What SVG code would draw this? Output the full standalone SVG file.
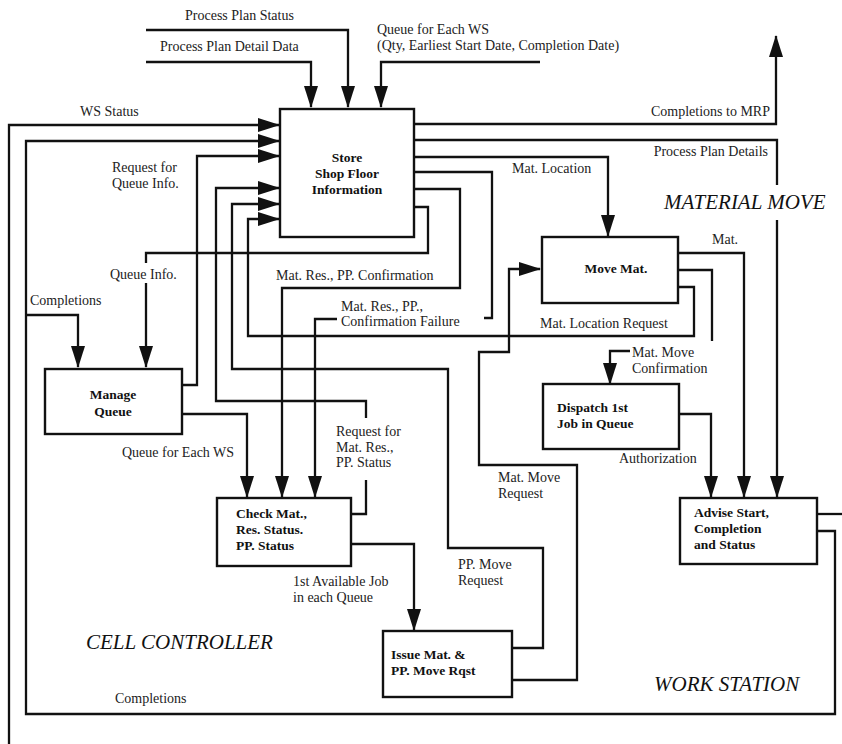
<svg xmlns="http://www.w3.org/2000/svg" width="842" height="744" viewBox="0 0 842 744">
  <style>
    .box { fill: #fff; stroke: #111; stroke-width: 2.4; }
    .ln { fill: none; stroke: #111; stroke-width: 2.3; stroke-linejoin: miter; }
    .arr { marker-end: url(#head); }
    .lbl { font-family: "Liberation Serif", "Times New Roman", serif; font-size: 14px; fill: #222; }
    .node { font-family: "Liberation Serif", "Times New Roman", serif; font-size: 13.5px; font-weight: bold; fill: #111; }
    .region { font-family: "Liberation Serif", "Times New Roman", serif; font-size: 21px; font-style: italic; fill: #111; }
  </style>
  <defs>
    <marker id="head" markerUnits="userSpaceOnUse" markerWidth="22" markerHeight="14" refX="21" refY="7" orient="auto">
      <path d="M0,0 L22,7 L0,14 z" fill="#111"/>
    </marker>
  </defs>
  <rect width="842" height="744" fill="#fff"/>

  <!-- connectors -->
  <g id="connectors">
    <!-- external inputs at top -->
    <path class="ln arr" d="M146,30 H348 V107"/>
    <path class="ln arr" d="M146,62 H311 V107"/>
    <path class="ln arr" d="M540,62 H381 V107"/>

    <!-- inputs on left side of Store -->
    <path class="ln arr" d="M9,744 V125 H279"/>
    <path class="ln arr" d="M817,531 H835 V714 H26 V141 H279"/>
    <path class="ln arr" d="M26,315 H78 V367"/>
    <path class="ln arr" d="M182,385 H197 V156 H279"/>
    <path class="ln arr" d="M351,514 H366 V480 M366,418 V401 H216 V188 H279"/>
    <path class="ln arr" d="M512,648 H543 V548 H448 V369 H232 V204 H279"/>
    <path class="ln arr" d="M678,287 H694 V336 H248 V219 H279"/>

    <!-- outputs on right side of Store -->
    <path class="ln arr" d="M414,124 H776 V36"/>
    <path class="ln arr" d="M414,140 H777 V185 M777,220 V497"/>
    <path class="ln arr" d="M414,157 H608 V236"/>
    <path class="ln" d="M414,172 H492 V318 H484"/>
    <path class="ln arr" d="M337,319 H315 V497"/>
    <path class="ln arr" d="M414,189 H460 V288 H282 V497"/>
    <path class="ln" d="M414,207 H428 V253 H146 V263"/>
    <path class="ln arr" d="M146,283 V367"/>

    <!-- Manage Queue to Check -->
    <path class="ln arr" d="M182,414 H247 V497"/>

    <!-- Check to Issue -->
    <path class="ln arr" d="M351,544 H414 V630"/>

    <!-- Issue to Move Mat. -->
    <path class="ln arr" d="M512,680 H577 V465 H479 V352 H509 V269 H540"/>

    <!-- Move Mat. outputs -->
    <path class="ln arr" d="M678,253 H744 V497"/>
    <path class="ln" d="M678,270 H712 V341"/>
    <path class="ln arr" d="M630,351 H610 V384"/>

    <!-- Dispatch to Advise -->
    <path class="ln arr" d="M679,414 H711 V497"/>

    <!-- Advise output -->
    <path class="ln" d="M817,514 H842"/>
  </g>

  <!-- nodes -->
  <g id="store">
    <rect class="box" x="280" y="109" width="134" height="128"/>
    <text class="node" x="347" y="162" text-anchor="middle">Store</text>
    <text class="node" x="347" y="178" text-anchor="middle">Shop Floor</text>
    <text class="node" x="347" y="194" text-anchor="middle">Information</text>
  </g>
  <g id="manage-queue">
    <rect class="box" x="45" y="369" width="137" height="65"/>
    <text class="node" x="113" y="399" text-anchor="middle">Manage</text>
    <text class="node" x="113" y="416" text-anchor="middle">Queue</text>
  </g>
  <g id="move-mat">
    <rect class="box" x="542" y="237" width="136" height="66"/>
    <text class="node" x="616" y="273" text-anchor="middle">Move Mat.</text>
  </g>
  <g id="dispatch">
    <rect class="box" x="543" y="384" width="136" height="65"/>
    <text class="node" x="557" y="412">Dispatch 1st</text>
    <text class="node" x="557" y="428">Job in Queue</text>
  </g>
  <g id="check">
    <rect class="box" x="217" y="498" width="134" height="68"/>
    <text class="node" x="236" y="518">Check Mat.,</text>
    <text class="node" x="236" y="534">Res. Status.</text>
    <text class="node" x="236" y="550">PP. Status</text>
  </g>
  <g id="issue">
    <rect class="box" x="383" y="631" width="129" height="66"/>
    <text class="node" x="391" y="659">Issue Mat. &amp;</text>
    <text class="node" x="391" y="675">PP. Move Rqst</text>
  </g>
  <g id="advise">
    <rect class="box" x="680" y="498" width="137" height="66"/>
    <text class="node" x="694" y="517">Advise Start,</text>
    <text class="node" x="694" y="533">Completion</text>
    <text class="node" x="694" y="549">and Status</text>
  </g>

  <!-- connector labels -->
  <g id="labels">
    <text class="lbl" x="185" y="20">Process Plan Status</text>
    <text class="lbl" x="160" y="51">Process Plan Detail Data</text>
    <text class="lbl" x="377" y="34">Queue for Each WS</text>
    <text class="lbl" x="377" y="50">(Qty, Earliest Start Date, Completion Date)</text>
    <text class="lbl" x="80" y="116">WS Status</text>
    <text class="lbl" x="112" y="172">Request for</text>
    <text class="lbl" x="112" y="188">Queue Info.</text>
    <text class="lbl" x="110" y="279">Queue Info.</text>
    <text class="lbl" x="30" y="305">Completions</text>
    <text class="lbl" x="122" y="457">Queue for Each WS</text>
    <text class="lbl" x="276" y="280">Mat. Res., PP. Confirmation</text>
    <text class="lbl" x="341" y="311">Mat. Res., PP.,</text>
    <text class="lbl" x="341" y="326">Confirmation Failure</text>
    <text class="lbl" x="336" y="436">Request for</text>
    <text class="lbl" x="336" y="452">Mat. Res.,</text>
    <text class="lbl" x="336" y="467">PP. Status</text>
    <text class="lbl" x="770" y="116" text-anchor="end">Completions to MRP</text>
    <text class="lbl" x="768" y="156" text-anchor="end">Process Plan Details</text>
    <text class="lbl" x="512" y="173">Mat. Location</text>
    <text class="lbl" x="712" y="244">Mat.</text>
    <text class="lbl" x="540" y="328">Mat. Location Request</text>
    <text class="lbl" x="632" y="357">Mat. Move</text>
    <text class="lbl" x="632" y="373">Confirmation</text>
    <text class="lbl" x="619" y="463">Authorization</text>
    <text class="lbl" x="498" y="482">Mat. Move</text>
    <text class="lbl" x="498" y="498">Request</text>
    <text class="lbl" x="458" y="569">PP. Move</text>
    <text class="lbl" x="458" y="585">Request</text>
    <text class="lbl" x="293" y="586">1st Available Job</text>
    <text class="lbl" x="293" y="602">in each Queue</text>
    <text class="lbl" x="115" y="703">Completions</text>
  </g>

  <!-- region titles -->
  <g id="regions">
    <text class="region" x="664" y="209">MATERIAL MOVE</text>
    <text class="region" x="86" y="649">CELL CONTROLLER</text>
    <text class="region" x="654" y="691">WORK STATION</text>
  </g>
</svg>
